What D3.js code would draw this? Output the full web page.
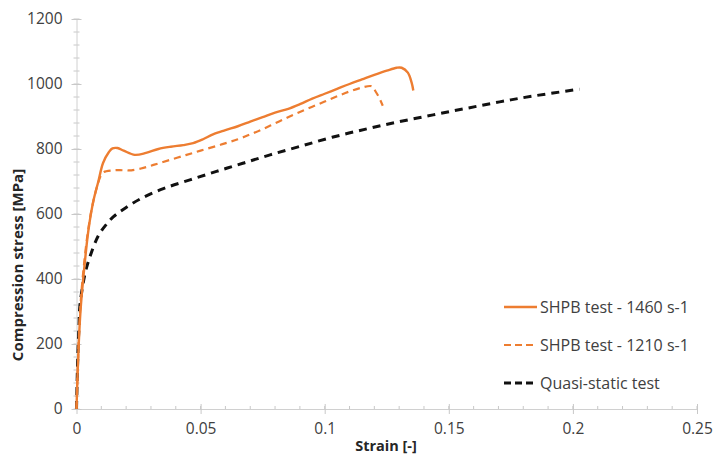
<!DOCTYPE html>
<html>
<head>
<meta charset="utf-8">
<script src="https://cdn.jsdelivr.net/npm/d3@7"></script>
<style>
  body { margin: 0; background: #fff; }
  text { font-family: "Open Sans", sans-serif; }
</style>
</head>
<body>
<div id="chart"></div>
<script>
// strain [-] and compression stress [MPa]
var shpb1460Strain = [0, 0.0004, 0.0009, 0.0016, 0.0027, 0.0048, 0.0068, 0.0088, 0.0107, 0.013, 0.0145, 0.0165,
  0.019, 0.0235, 0.028, 0.033, 0.038, 0.043, 0.047, 0.051, 0.055, 0.06, 0.065, 0.07, 0.075, 0.08, 0.085,
  0.09, 0.095, 0.1, 0.105, 0.11, 0.115, 0.12, 0.125, 0.129, 0.131, 0.1335, 0.135, 0.1357];
var shpb1460Stress = [0, 100, 200, 300, 400, 550, 640, 700, 757, 790, 802, 803,
  795, 782, 788, 800, 807, 812, 818, 830, 845, 858, 870, 884, 898, 912, 923,
  938, 955, 970, 985, 1000, 1014, 1028, 1041, 1050, 1050, 1035, 1005, 980];

var shpb1210Strain = [0, 0.0004, 0.0009, 0.0016, 0.0027, 0.0045, 0.0065, 0.0085, 0.0098, 0.011, 0.0145, 0.0175,
  0.021, 0.026, 0.031, 0.037, 0.044, 0.05, 0.058, 0.065, 0.07, 0.075, 0.08, 0.085, 0.09, 0.095, 0.1,
  0.105, 0.11, 0.115, 0.119, 0.1205, 0.122, 0.1234];
var shpb1210Stress = [0, 100, 210, 320, 420, 540, 630, 690, 718, 729, 734, 735,
  734, 740, 751, 765, 781, 795, 813, 830, 845, 861, 879, 897, 914, 930, 946,
  962, 977, 989, 993, 977, 957, 933];

var quasiStrain = [0, 0.0003, 0.0006, 0.001, 0.0014, 0.0034, 0.0054, 0.0088, 0.0121, 0.0148, 0.0188, 0.0256,
  0.035, 0.0457, 0.0564, 0.067, 0.078, 0.09, 0.103, 0.117, 0.13, 0.1437, 0.157, 0.1705, 0.184, 0.2027];
var quasiStress = [0, 100, 180, 255, 320, 415, 468, 533, 569, 591, 614, 646,
  678, 705, 731, 756, 782, 808, 836, 862, 884, 905, 925, 945, 963, 984];

var xTicks = [0, 0.05, 0.1, 0.15, 0.2, 0.25];
var xTickLabels = ["0", "0.05", "0.1", "0.15", "0.2", "0.25"];
var yTicks = [0, 200, 400, 600, 800, 1000, 1200];

var seriesNames = ["SHPB test - 1460 s-1", "SHPB test - 1210 s-1", "Quasi-static test"];

var svgWidth = 722;
var svgHeight = 465;

var margin = { top: 19, right: 25, bottom: 56, left: 76.5 };
var width = svgWidth - margin.left - margin.right;
var height = svgHeight - margin.top - margin.bottom;

var svg = d3.select("#chart")
  .append("svg")
  .attr("width", svgWidth)
  .attr("height", svgHeight)
  .style("background", "#fff");

var chartGroup = svg.append("g")
  .attr("transform", `translate(${margin.left}, ${margin.top})`);

var xScale = d3.scaleLinear().domain([0, 0.25]).range([0, width]);
var yScale = d3.scaleLinear().domain([0, 1200]).range([height, 0]);

// minor ticks (drawn first, crossing the axis lines)
var xMinor = d3.range(0, 0.2501, 0.01);
var yMinor = d3.range(0, 1201, 40);

chartGroup.append("g")
  .selectAll("line")
  .data(xMinor)
  .enter().append("line")
  .attr("x1", d => xScale(d)).attr("x2", d => xScale(d))
  .attr("y1", height - 3).attr("y2", height + 1)
  .attr("stroke", "#c8c8c8");

chartGroup.append("g")
  .selectAll("line")
  .data(yMinor)
  .enter().append("line")
  .attr("y1", d => yScale(d)).attr("y2", d => yScale(d))
  .attr("x1", -3).attr("x2", 3)
  .attr("stroke", "#c8c8c8");

var xAxis = d3.axisBottom(xScale)
  .tickValues(xTicks)
  .tickFormat((d, i) => xTickLabels[i])
  .tickSizeInner(5)
  .tickSizeOuter(0)
  .tickPadding(9);

var yAxis = d3.axisLeft(yScale)
  .tickValues(yTicks)
  .tickFormat(d3.format("d"))
  .tickSizeInner(5)
  .tickSizeOuter(0)
  .tickPadding(9);

var xAxisGroup = chartGroup.append("g")
  .attr("transform", `translate(0, ${height})`)
  .call(xAxis);

var yAxisGroup = chartGroup.append("g")
  .call(yAxis);

[xAxisGroup, yAxisGroup].forEach(function(g) {
  g.select(".domain").attr("stroke", "#d0d0d0");
  g.selectAll(".tick line").attr("stroke", "#c8c8c8");
  g.selectAll(".tick text")
    .attr("font-family", "Open Sans, sans-serif")
    .attr("font-size", 15.5)
    .attr("fill", "#404040");
});
xAxisGroup.selectAll(".tick line").attr("y1", -5);
yAxisGroup.selectAll(".tick line").attr("x1", 5);

// series
var line = d3.line()
  .x(d => xScale(d[0]))
  .y(d => yScale(d[1]))
  .curve(d3.curveCatmullRom.alpha(0.5));

var series = [
  { name: seriesNames[0], pts: d3.zip(shpb1460Strain, shpb1460Stress), color: "#ed7d31", width: 2.4, dash: null },
  { name: seriesNames[1], pts: d3.zip(shpb1210Strain, shpb1210Stress), color: "#ed7d31", width: 2.2, dash: "7,5" },
  { name: seriesNames[2], pts: d3.zip(quasiStrain, quasiStress), color: "#111111", width: 3, dash: "8,6" }
];

chartGroup.selectAll(".series")
  .data(series.slice().reverse())
  .enter().append("path")
  .attr("class", "series")
  .attr("d", d => line(d.pts))
  .attr("fill", "none")
  .attr("stroke", d => d.color)
  .attr("stroke-width", d => d.width)
  .attr("stroke-dasharray", d => d.dash);

// legend
var legend = svg.append("g")
  .attr("transform", "translate(504, 307)");

var legendItems = legend.selectAll("g")
  .data(series)
  .enter().append("g")
  .attr("transform", (d, i) => `translate(0, ${i * 38})`);

legendItems.append("line")
  .attr("x1", 0).attr("x2", 33)
  .attr("y1", 0).attr("y2", 0)
  .attr("stroke", d => d.color)
  .attr("stroke-width", d => d.width)
  .attr("stroke-dasharray", d => d.dash ? "7,4" : null);

legendItems.append("text")
  .attr("x", 36)
  .attr("dy", "0.35em")
  .attr("font-size", 16)
  .attr("fill", "#404040")
  .text(d => d.name);

// axis titles
chartGroup.append("text")
  .attr("transform", "rotate(-90)")
  .attr("x", -(265 - margin.top))
  .attr("y", -margin.left + 18)
  .attr("dy", "0.35em")
  .attr("text-anchor", "middle")
  .attr("font-size", 15)
  .attr("font-weight", "bold")
  .attr("fill", "#262626")
  .text("Compression stress [MPa]");

chartGroup.append("text")
  .attr("x", 386 - margin.left)
  .attr("y", height + 37)
  .attr("dy", "0.35em")
  .attr("text-anchor", "middle")
  .attr("font-size", 14.5)
  .attr("font-weight", "bold")
  .attr("fill", "#262626")
  .text("Strain [-]");
</script>
</body>
</html>
